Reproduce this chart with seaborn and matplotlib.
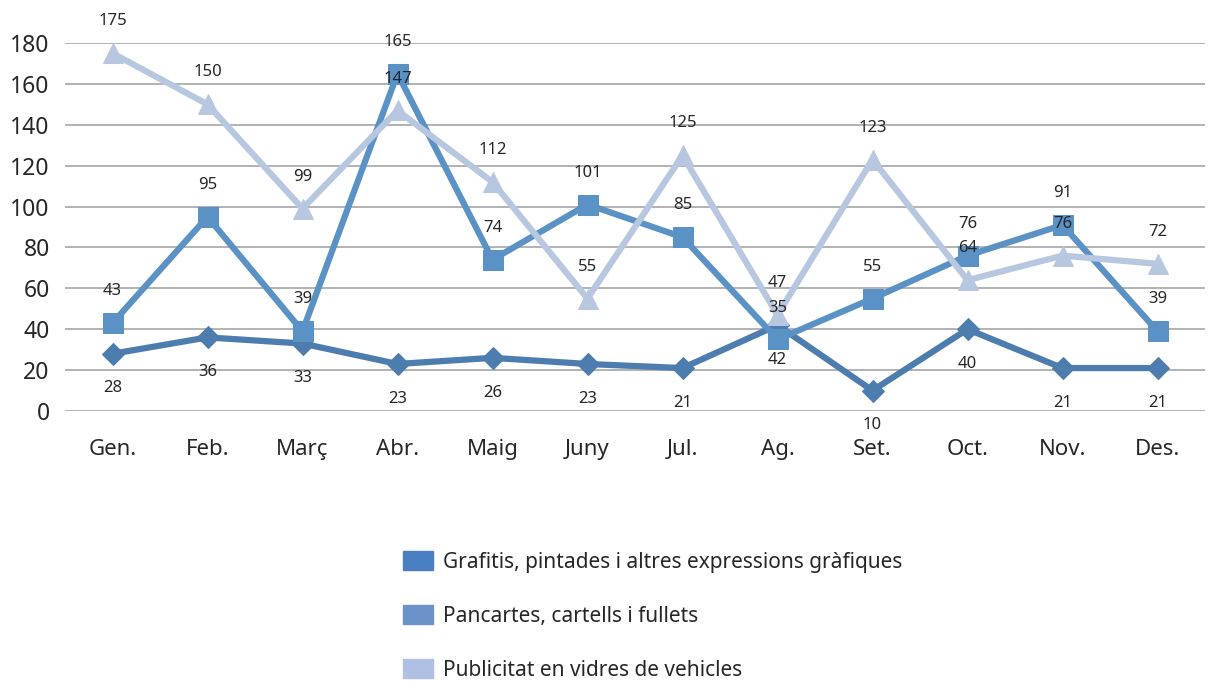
import matplotlib
matplotlib.use('Agg')
import matplotlib.pyplot as plt
import matplotlib.patches as mpatches
import seaborn as sns
import pandas as pd

# --- data ---
months = ['Gen.', 'Feb.', 'Març', 'Abr.', 'Maig', 'Juny', 'Jul.', 'Ag.',
          'Set.', 'Oct.', 'Nov.', 'Des.']
grafitis = [28, 36, 33, 23, 26, 23, 21, 42, 10, 40, 21, 21]
pancartes = [43, 95, 39, 165, 74, 101, 85, 35, 55, 76, 91, 39]
publicitat = [175, 150, 99, 147, 112, 55, 125, 47, 123, 64, 76, 72]
series_names = ['Grafitis, pintades i altres expressions gràfiques',
                'Pancartes, cartells i fullets',
                'Publicitat en vidres de vehicles']
y_ticks = [0, 20, 40, 60, 80, 100, 120, 140, 160, 180]

sns.set_style('white')
plt.rcParams['font.family'] = ['Noto Sans', 'DejaVu Sans']
text_col = '#262626'

line_cols = ['#4C7DAE', '#5A92C6', '#B8C7E0']
legend_cols = ['#4A7FC1', '#6C92CA', '#AFC1E2']
markers = ['D', 's', '^']
msizes = [11, 15, 15]
values = [grafitis, pancartes, publicitat]

fig = plt.figure(figsize=(12.11, 6.81), dpi=100)
ax = fig.add_axes([65 / 1211, 1 - 411 / 681, 1140 / 1211, 368 / 681])

for y in y_ticks:
    ax.axhline(y, color='#A6A6A6', lw=1.2, zorder=0)

# draw order: triangles, then diamonds, then squares on top
for i in [2, 0, 1]:
    df = pd.DataFrame({'x': range(len(months)), 'y': values[i]})
    sns.lineplot(data=df, x='x', y='y', ax=ax, color=line_cols[i], lw=4.5,
                 marker=markers[i], markersize=msizes[i],
                 markeredgecolor=line_cols[i], zorder=2 + i)

# data labels
offsets = [-25, 23, 23]
for i in range(3):
    for j, v in enumerate(values[i]):
        ax.annotate(str(v), (j, v), xytext=(0, offsets[i]),
                    textcoords='offset points', ha='center', va='center',
                    fontsize=12, color=text_col, zorder=10)

ax.set_xlim(-0.5, len(months) - 0.5)
ax.set_ylim(0, 180)
ax.set_xticks(range(len(months)))
ax.set_xticklabels(months, fontsize=16, color=text_col)
ax.set_yticks(y_ticks)
ax.set_yticklabels([str(t) for t in y_ticks], fontsize=16.5, color=text_col)
ax.tick_params(axis='x', length=0, pad=20)
ax.tick_params(axis='y', length=0, pad=11)
ax.set_xlabel('')
ax.set_ylabel('')
for s in ax.spines.values():
    s.set_visible(False)

handles = [mpatches.Patch(color=c, label=n) for c, n in zip(legend_cols, series_names)]
leg = fig.legend(handles=handles, loc='upper left',
                 bbox_to_anchor=(384 / 1211, 1 - 532 / 681), frameon=False,
                 fontsize=15, labelspacing=1.55, handlelength=1.44,
                 handleheight=1.06, handletextpad=0.5)
for t in leg.get_texts():
    t.set_color(text_col)

fig.savefig('out.png', dpi=100)
